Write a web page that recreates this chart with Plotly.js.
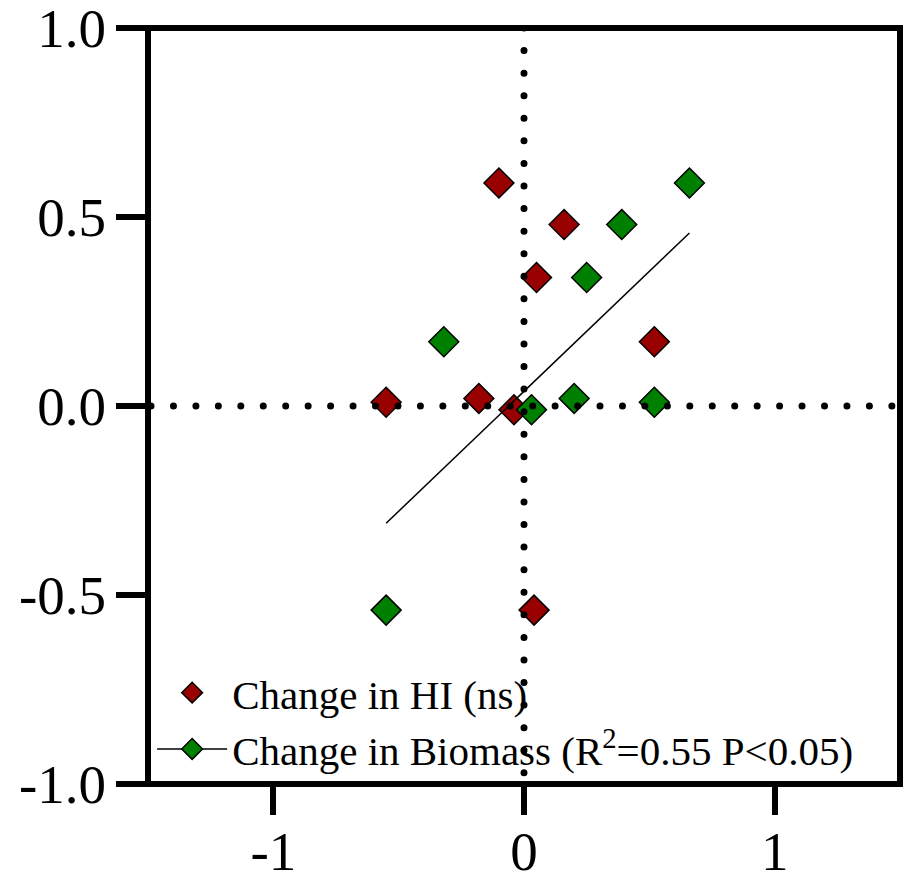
<!DOCTYPE html>
<html>
<head>
<meta charset="utf-8">
<script src="https://cdn.plot.ly/plotly-3.0.1.min.js"></script>
<style>html,body{margin:0;padding:0;background:#fff;}#chart{width:903px;height:880px;}</style>
</head>
<body>
<div id="chart"></div>
<script>
// Change in HI (x) vs change in yield (y)
const hiX = [-0.10, 0.16, 0.05, 0.52, -0.55, -0.18, -0.04, 0.04];
const hiY = [0.59, 0.48, 0.34, 0.17, 0.01, 0.02, -0.01, -0.54];
// Change in Biomass (x) vs change in yield (y)
const bioX = [0.66, 0.39, 0.25, -0.32, 0.03, 0.20, 0.52, -0.55];
const bioY = [0.59, 0.48, 0.34, 0.17, -0.01, 0.02, 0.01, -0.54];

const hiName = "Change in HI (ns)";
const bioName = "Change in Biomass (R<sup>2</sup>=0.55 P&lt;0.05)";

const xTickVals = [-1, 0, 1];
const xTickText = ["-1", "0", "1"];
const yTickVals = [-1, -0.5, 0, 0.5, 1];
const yTickText = ["-1.0", "-0.5", "0.0", "0.5", "1.0"];

// least-squares fit of the biomass series
const n = bioX.length;
const mx = bioX.reduce((a, b) => a + b, 0) / n;
const my = bioY.reduce((a, b) => a + b, 0) / n;
let sxy = 0, sxx = 0;
for (let i = 0; i < n; i++) { sxy += (bioX[i] - mx) * (bioY[i] - my); sxx += (bioX[i] - mx) ** 2; }
const slope = sxy / sxx, icpt = my - slope * mx;
const fitX = [Math.min(...bioX), Math.max(...bioX)];
const fitY = fitX.map(v => icpt + slope * v);

const RED = "#990000", GREEN = "#008000";
const FONT = "Liberation Serif, Times New Roman, serif";

const traces = [
  {x: hiX, y: hiY, type: "scatter", mode: "markers", name: hiName,
   marker: {symbol: "diamond", size: 23, color: RED, line: {color: "#000", width: 1.5}}},
  {x: bioX, y: bioY, type: "scatter", mode: "markers", name: bioName, showlegend: false,
   marker: {symbol: "diamond", size: 23, color: GREEN, line: {color: "#000", width: 1.5}}},
  {x: fitX, y: fitY, type: "scatter", mode: "lines", showlegend: false, hoverinfo: "skip",
   line: {color: "#000", width: 1.5}},
  {x: [null], y: [null], type: "scatter", mode: "lines+markers", name: bioName,
   marker: {symbol: "diamond", size: 23, color: GREEN, line: {color: "#000", width: 1.5}},
   line: {color: "#000", width: 1.5}}
];

const axisCommon = {
  showgrid: false, zeroline: false, showline: false,
  ticks: "outside", tickwidth: 6, tickcolor: "#000",
  tickfont: {family: FONT, size: 55, color: "#000"},
  tickmode: "array", fixedrange: true, ticklabeloverflow: "allow"
};

const layout = {
  width: 903, height: 880,
  margin: {l: 148, r: 3, t: 28, b: 96},
  paper_bgcolor: "#fff", plot_bgcolor: "#fff",
  showlegend: true,
  legend: {x: 0.0055, y: 0.002, xanchor: "left", yanchor: "bottom", bgcolor: "rgba(0,0,0,0)",
           font: {family: FONT, size: 41, color: "#000"}, itemwidth: 70, traceorder: "normal"},
  xaxis: Object.assign({}, axisCommon, {range: [-1.5, 1.5], tickvals: xTickVals, ticktext: xTickText, ticklen: 30, ticklabelstandoff: -11}),
  yaxis: Object.assign({}, axisCommon, {range: [-1, 1], tickvals: yTickVals, ticktext: yTickText, ticklen: 31, ticklabelstandoff: -1}),
  shapes: [
    {type: "line", xref: "x", yref: "y", x0: -1.488, x1: 1.5, y0: 0, y1: 0, layer: "above",
     line: {color: "#000", width: 7, dash: "0px,22.45px"}},
    {type: "line", xref: "x", yref: "y", x0: 0, x1: 0, y0: 1, y1: -1, layer: "above",
     line: {color: "#000", width: 7, dash: "0px,22.57px"}},
    {type: "rect", xref: "paper", yref: "paper", x0: 0, x1: 1, y0: 0, y1: 1, layer: "above",
     line: {color: "#000", width: 6}, fillcolor: "rgba(0,0,0,0)"}
  ]
};

const gdEl = document.getElementById("chart");
function roundDots() {
  // round dots for the dotted reference lines
  gdEl.querySelectorAll(".shapelayer path").forEach(p => {
    const da = p.style.strokeDasharray || p.getAttribute("stroke-dasharray") || "";
    if (/^0(px)?[ ,]/.test(da)) { p.style.strokeLinecap = "round"; }
  });
}
Plotly.newPlot(gdEl, traces, layout, {displayModeBar: false}).then(gd => {
  roundDots();
  gd.on("plotly_afterplot", roundDots);
});
</script>
</body>
</html>
